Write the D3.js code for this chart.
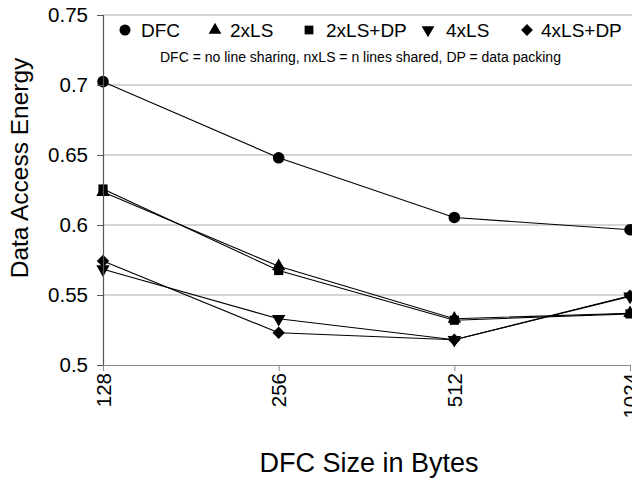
<!DOCTYPE html>
<html>
<head>
<meta charset="utf-8">
<script src="https://cdn.jsdelivr.net/npm/d3@7"></script>
<style>
  html, body { margin: 0; padding: 0; background: #fff; }
  svg { display: block; font-family: "Liberation Sans", Arial, sans-serif; }
</style>
</head>
<body>
<svg id="chart" width="632" height="479"></svg>
<script>
const categories = ["128", "256", "512", "1024"];
const seriesNames = ["DFC", "2xLS", "2xLS+DP", "4xLS", "4xLS+DP"];
const dfc      = [0.7024, 0.6480, 0.6054, 0.5966];
const ls2      = [0.6235, 0.5705, 0.5330, 0.5370];
const ls2dp    = [0.6257, 0.5675, 0.5320, 0.5365];
const ls4      = [0.5684, 0.5330, 0.5180, 0.5490];
const ls4dp    = [0.5743, 0.5230, 0.5180, 0.5495];
const yTicks   = [0.5, 0.55, 0.6, 0.65, 0.7, 0.75];
const yTickLabels = ["0.5", "0.55", "0.6", "0.65", "0.7", "0.75"];
const subtitle = "DFC = no line sharing, nxLS = n lines shared, DP = data packing";
const xTitle = "DFC Size in Bytes";
const yTitle = "Data Access Energy";

const seriesValues = [dfc, ls2, ls2dp, ls4, ls4dp];
const markerKinds = ["circle", "triangle", "square", "triangleDown", "diamond"];

const svg = d3.select("#chart");
const plotLeft = 103, plotRight = 630, plotTop = 15, plotBottom = 365;

const x = d3.scalePoint().domain(categories).range([plotLeft, plotRight]);
const y = d3.scaleLinear().domain([0.5, 0.75]).range([plotBottom, plotTop]);

// gridlines
svg.append("g").selectAll("line").data(yTicks.slice(1)).join("line")
  .attr("x1", plotLeft).attr("x2", 632)
  .attr("y1", d => y(d)).attr("y2", d => y(d))
  .attr("stroke", "#c8c8c8").attr("stroke-width", 1.5);

function marker(sel, kind, scale) {
  const s = scale || 1;
  if (kind === "circle") {
    sel.append("circle").attr("r", 5.8 * s).attr("fill", "#000");
  } else if (kind === "square") {
    sel.append("rect").attr("x", -4.6 * s).attr("y", -4.6 * s)
      .attr("width", 9.2 * s).attr("height", 9.2 * s).attr("fill", "#000");
  } else if (kind === "triangle") {
    sel.append("path").attr("d", d3.symbol(d3.symbolTriangle, 78 * s * s)()).attr("fill", "#000");
  } else if (kind === "triangleDown") {
    sel.append("path").attr("d", d3.symbol(d3.symbolTriangle, 78 * s * s)())
      .attr("transform", "rotate(180)").attr("fill", "#000");
  } else if (kind === "diamond") {
    sel.append("rect").attr("x", -4.4 * s).attr("y", -4.4 * s)
      .attr("width", 8.8 * s).attr("height", 8.8 * s)
      .attr("transform", "rotate(45)").attr("fill", "#000");
  }
}

const line = d3.line().x((d, i) => x(categories[i])).y(d => y(d));

seriesValues.forEach((vals, si) => {
  const g = svg.append("g");
  g.append("path").attr("d", line(vals))
    .attr("fill", "none").attr("stroke", "#000").attr("stroke-width", 1.1);
  vals.forEach((v, i) => {
    const m = g.append("g").attr("transform", `translate(${x(categories[i])},${y(v)})`);
    marker(m, markerKinds[si]);
  });
});

// y axis
const yAxis = d3.axisLeft(y).tickValues(yTicks)
  .tickFormat((d, i) => yTickLabels[i]).tickSize(6).tickPadding(9);
const gy = svg.append("g").attr("transform", `translate(${plotLeft},0)`).call(yAxis);
gy.select(".domain").attr("stroke", "#555").attr("stroke-width", 1.2);
gy.selectAll(".tick line").attr("stroke", "#555");
gy.selectAll("text").attr("font-size", 20.5).attr("fill", "#000")
  .attr("font-family", "Liberation Sans, Arial, sans-serif");

// x axis
const xAxis = d3.axisBottom(x).tickSize(6).tickSizeOuter(0);
const gx = svg.append("g").attr("transform", `translate(0,${plotBottom})`).call(xAxis);
gx.select(".domain").attr("stroke", "#888").attr("stroke-width", 1.2);
gx.selectAll(".tick line").attr("stroke", "#888");
gx.selectAll("text").attr("font-size", 20.5).attr("fill", "#000")
  .attr("font-family", "Liberation Sans, Arial, sans-serif")
  .attr("transform", "rotate(-90)")
  .attr("text-anchor", "end")
  .attr("x", -8).attr("y", 0).attr("dy", "0.35em");

// axis titles
svg.append("text").attr("x", 369).attr("y", 472)
  .attr("text-anchor", "middle").attr("font-size", 27).text(xTitle);
svg.append("text").attr("transform", "translate(28,168) rotate(-90)")
  .attr("text-anchor", "middle").attr("font-size", 24.5).text(yTitle);

// legend
const legX = [125, 215, 309, 428, 527];
const legTextX = [141, 230, 326, 446, 541];
seriesNames.forEach((name, i) => {
  const m = svg.append("g").attr("transform", `translate(${legX[i]},30)`);
  marker(m, markerKinds[i], 0.95);
  svg.append("text").attr("x", legTextX[i]).attr("y", 37)
    .attr("font-size", 19).text(name);
});
svg.append("text").attr("x", 160).attr("y", 62)
  .attr("font-size", 14).text(subtitle);
</script>
</body>
</html>
